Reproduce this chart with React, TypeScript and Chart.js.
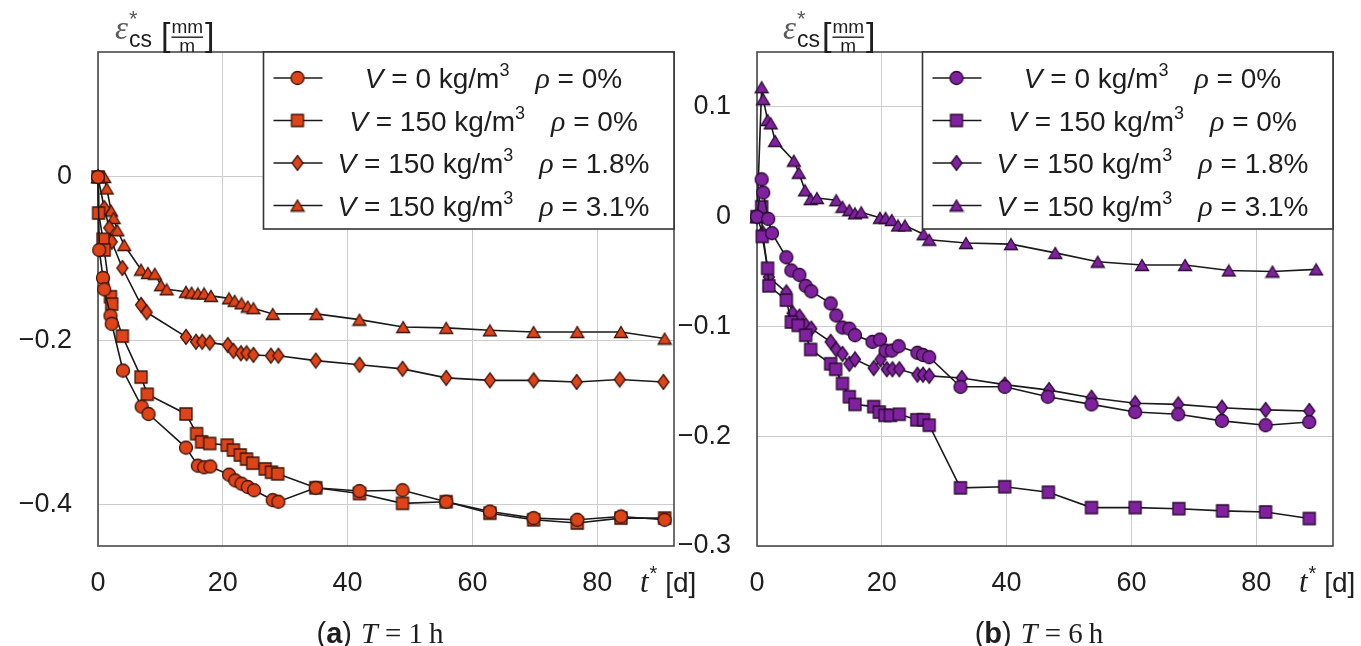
import React, { useEffect, useRef } from "react";
import { Chart, registerables } from "chart.js";
Chart.register(...registerables);

// ---------------- data ----------------
const X_TICKS = [0, 20, 40, 60, 80];
const X_TICK_LABELS = ["0", "20", "40", "60", "80"];
const A_Y_TICKS = [-0.4, -0.2, 0];
const A_Y_TICK_LABELS = ["\u22120.4", "\u22120.2", "0"];
const B_Y_TICKS = [-0.3, -0.2, -0.1, 0, 0.1];
const B_Y_TICK_LABELS = ["\u22120.3", "\u22120.2", "\u22120.1", "0", "0.1"];
const LEGEND_V = ["0", "150", "150", "150"];
const LEGEND_RHO = ["0%", "0%", "1.8%", "3.1%"];
const MARKERS = ["circle", "square", "diamond", "triangle"];

// (a) T = 1 h
const A_CIRCLE_T = [0, 0.2, 0.8, 1, 2, 2.2, 4, 7, 8.1, 14.1, 16, 17, 18, 21, 22, 23, 24, 25, 28, 28.9, 34.9, 41.9, 48.8, 55.8, 62.8, 69.8, 76.8, 83.8, 90.8];
const A_CIRCLE_V = [0, -0.089, -0.123, -0.137, -0.169, -0.179, -0.236, -0.28, -0.289, -0.33, -0.352, -0.354, -0.353, -0.363, -0.37, -0.374, -0.378, -0.382, -0.394, -0.396, -0.379, -0.383, -0.382, -0.396, -0.408, -0.416, -0.418, -0.414, -0.418];
const A_SQUARE_T = [0, 0.1, 0.8, 1, 2, 2.2, 3.9, 6.9, 7.9, 14.1, 15.8, 16.6, 17.9, 20.7, 21.7, 22.8, 23.8, 24.8, 26.8, 27.8, 28.8, 34.9, 41.9, 48.8, 55.8, 62.8, 69.8, 76.8, 83.8, 90.8];
const A_SQUARE_V = [0, -0.044, -0.076, -0.089, -0.146, -0.155, -0.194, -0.244, -0.265, -0.289, -0.313, -0.323, -0.325, -0.327, -0.333, -0.339, -0.344, -0.349, -0.356, -0.36, -0.362, -0.379, -0.386, -0.398, -0.396, -0.41, -0.418, -0.422, -0.416, -0.416];
const A_DIAMOND_T = [0, 1, 1.8, 2.2, 3.9, 6.9, 7.8, 14.1, 15.7, 16.7, 17.9, 20.8, 21.7, 22.9, 23.8, 24.9, 27.7, 28.9, 34.9, 41.9, 48.8, 55.8, 62.8, 69.8, 76.7, 83.6, 90.6];
const A_DIAMOND_V = [0, -0.038, -0.062, -0.079, -0.111, -0.156, -0.165, -0.195, -0.201, -0.201, -0.202, -0.205, -0.212, -0.215, -0.215, -0.217, -0.218, -0.218, -0.224, -0.229, -0.234, -0.245, -0.248, -0.248, -0.25, -0.247, -0.25];
const A_TRIANGLE_T = [0, 1, 1.4, 2.1, 2.5, 3.1, 4.2, 6.9, 8, 9.1, 10.1, 11, 14.1, 15, 16, 17, 18.1, 21, 21.9, 23, 24, 24.9, 28, 35, 41.9, 48.9, 55.8, 62.8, 69.8, 76.8, 83.8, 90.8];
const A_TRIANGLE_V = [0, 0, -0.014, -0.041, -0.05, -0.065, -0.083, -0.113, -0.117, -0.118, -0.132, -0.137, -0.14, -0.141, -0.142, -0.142, -0.145, -0.148, -0.151, -0.154, -0.158, -0.16, -0.167, -0.167, -0.174, -0.183, -0.184, -0.187, -0.189, -0.189, -0.189, -0.197];

// (b) T = 6 h
const B_CIRCLE_T = [0, 0.75, 1, 1.8, 2.4, 4.7, 5.5, 6.8, 7.8, 8.7, 11.8, 12.7, 13.7, 14.8, 15.7, 18.5, 19.7, 20.6, 21.6, 22.7, 25.7, 26.6, 27.6, 32.6, 39.7, 46.6, 53.6, 60.6, 67.5, 74.5, 81.5, 88.5];
const B_CIRCLE_V = [0, 0.034, 0.022, -0.002, -0.015, -0.037, -0.049, -0.053, -0.063, -0.068, -0.079, -0.09, -0.101, -0.102, -0.108, -0.114, -0.112, -0.122, -0.122, -0.118, -0.124, -0.126, -0.128, -0.155, -0.155, -0.164, -0.171, -0.178, -0.18, -0.186, -0.19, -0.187];
const B_SQUARE_T = [0, 0.75, 0.85, 1.7, 1.9, 4.7, 5.5, 6.6, 7.8, 8.6, 11.8, 12.6, 13.7, 14.8, 15.7, 18.7, 19.6, 20.5, 21.4, 22.8, 25.6, 26.7, 27.6, 32.6, 39.7, 46.7, 53.6, 60.6, 67.6, 74.6, 81.5, 88.5];
const B_SQUARE_V = [0, 0.009, -0.018, -0.047, -0.063, -0.076, -0.096, -0.099, -0.108, -0.121, -0.134, -0.139, -0.152, -0.164, -0.171, -0.173, -0.178, -0.181, -0.181, -0.18, -0.185, -0.185, -0.19, -0.247, -0.246, -0.251, -0.265, -0.265, -0.266, -0.268, -0.269, -0.275];
const B_DIAMOND_T = [0, 0.9, 1.9, 4.7, 5.7, 6.8, 7.8, 8.7, 11.8, 12.7, 13.7, 14.8, 15.7, 18.7, 19.8, 20.8, 21.7, 22.8, 25.7, 26.6, 27.6, 32.8, 39.7, 46.8, 53.6, 60.6, 67.5, 74.5, 81.5, 88.5];
const B_DIAMOND_V = [0, -0.015, -0.055, -0.069, -0.088, -0.091, -0.099, -0.102, -0.114, -0.121, -0.125, -0.134, -0.13, -0.138, -0.13, -0.139, -0.139, -0.139, -0.144, -0.144, -0.145, -0.147, -0.153, -0.158, -0.165, -0.17, -0.171, -0.174, -0.176, -0.177];
const B_TRIANGLE_T = [0, 0.75, 1, 1.7, 2.2, 2.9, 5.9, 6.7, 7.7, 8.6, 9.6, 12.7, 13.7, 14.8, 15.7, 16.7, 19.7, 20.6, 21.6, 22.6, 23.7, 26.7, 27.6, 33.5, 40.7, 47.8, 54.6, 61.7, 68.6, 75.6, 82.6, 89.6];
const B_TRIANGLE_V = [0, 0.118, 0.107, 0.088, 0.085, 0.069, 0.051, 0.04, 0.024, 0.016, 0.017, 0.015, 0.009, 0.006, 0.003, 0.004, -0.001, -0.001, -0.003, -0.008, -0.008, -0.016, -0.021, -0.024, -0.025, -0.033, -0.041, -0.044, -0.044, -0.049, -0.05, -0.048];

// ---------------- styling ----------------
const SANS = '"Liberation Sans", Arial, Helvetica, sans-serif';
const SERIF = '"Liberation Serif", "DejaVu Serif", serif';
const TEXT = "#1e1e1e";
const GRID = "#cdcdcd";
const AXIS = "#4a4a4a";
const LINE = "#1a1a1a";
const X_MAX = 92.3;

type Seg = { text: string; font: string; dy?: number; dx?: number; color?: string };

function segsWidth(ctx: CanvasRenderingContext2D, segs: Seg[]) {
  let w = 0;
  for (const s of segs) {
    ctx.font = s.font;
    w += ctx.measureText(s.text).width + (s.dx || 0);
  }
  return w;
}
function drawSegs(ctx: CanvasRenderingContext2D, segs: Seg[], x: number, y: number) {
  ctx.textAlign = "left";
  ctx.textBaseline = "alphabetic";
  let cx = x;
  for (const s of segs) {
    ctx.font = s.font;
    ctx.fillStyle = s.color || TEXT;
    cx += s.dx || 0;
    ctx.fillText(s.text, cx, y + (s.dy || 0));
    cx += ctx.measureText(s.text).width;
  }
  return cx;
}

function makeMarker(kind: string, fill: string, edge: string) {
  const c = document.createElement("canvas");
  let w = 16, h = 16;
  if (kind === "diamond") { w = 14; h = 18; }
  if (kind === "triangle") { w = 16; h = 14; }
  c.width = w; c.height = h;
  const g = c.getContext("2d")!;
  g.fillStyle = fill; g.strokeStyle = edge; g.lineWidth = 1.3;
  g.beginPath();
  if (kind === "circle") g.arc(8, 8, 6.5, 0, Math.PI * 2);
  else if (kind === "square") g.rect(2, 2, 12, 12);
  else if (kind === "diamond") { g.moveTo(7, 1.5); g.lineTo(12.5, 9); g.lineTo(7, 16.5); g.lineTo(1.5, 9); g.closePath(); }
  else { g.moveTo(8, 1.5); g.lineTo(14.5, 12.5); g.lineTo(1.5, 12.5); g.closePath(); }
  g.fill(); g.stroke();
  return c;
}

type Panel = {
  series: { t: number[]; v: number[] }[];
  yMin: number; yMax: number; yTicks: number[]; yLabels: string[];
  fill: string; edge: string; yAxisWidth: number; padRight: number;
  letter: string; hours: string; titleDx: number;
};

const panelA: Panel = {
  series: [
    { t: A_CIRCLE_T, v: A_CIRCLE_V },
    { t: A_SQUARE_T, v: A_SQUARE_V },
    { t: A_DIAMOND_T, v: A_DIAMOND_V },
    { t: A_TRIANGLE_T, v: A_TRIANGLE_V },
  ],
  yMin: -0.45, yMax: 0.1524, yTicks: A_Y_TICKS, yLabels: A_Y_TICK_LABELS,
  fill: "#df4419", edge: "#3b1408", yAxisWidth: 98, padRight: 46,
  letter: "a", hours: "1", titleDx: 17,
};
const panelB: Panel = {
  series: [
    { t: B_CIRCLE_T, v: B_CIRCLE_V },
    { t: B_SQUARE_T, v: B_SQUARE_V },
    { t: B_DIAMOND_T, v: B_DIAMOND_V },
    { t: B_TRIANGLE_T, v: B_TRIANGLE_V },
  ],
  yMin: -0.3, yMax: 0.15, yTicks: B_Y_TICKS, yLabels: B_Y_TICK_LABELS,
  fill: "#80229f", edge: "#2a0b33", yAxisWidth: 79, padRight: 28,
  letter: "b", hours: "6", titleDx: 26,
};

function decorPlugin(p: Panel, markers: HTMLCanvasElement[]) {
  return {
    id: "decor",
    beforeDatasetsDraw(chart: any) {
      const { ctx, chartArea: ca } = chart;
      ctx.save();
      ctx.strokeStyle = AXIS;
      ctx.lineWidth = 1.6;
      ctx.strokeRect(ca.left, ca.top, ca.right - ca.left, ca.bottom - ca.top);
      ctx.restore();
    },
    afterDatasetsDraw(chart: any) {
      const { ctx, chartArea: ca } = chart;
      ctx.save();
      const lx = ca.left + 165.5;
      const ly = ca.top;
      const lw = ca.right - lx;
      const lh = 177;
      ctx.fillStyle = "#fff";
      ctx.fillRect(lx, ly, lw, lh);
      ctx.strokeStyle = "#333";
      ctx.lineWidth = 1.6;
      ctx.strokeRect(lx, ly, lw, lh);
      const f = `28px ${SANS}`;
      for (let i = 0; i < 4; i++) {
        const ry = ly + 26 + i * 42.5;
        ctx.strokeStyle = LINE;
        ctx.lineWidth = 1.6;
        ctx.beginPath();
        ctx.moveTo(lx + 10, ry);
        ctx.lineTo(lx + 59, ry);
        ctx.stroke();
        const m = markers[i];
        ctx.drawImage(m, lx + 34 - m.width / 2, ry - m.height / 2);
        const segs: Seg[] = [
          { text: "V", font: `italic 28px ${SANS}` },
          { text: " = ", font: f },
          { text: LEGEND_V[i], font: f },
          { text: " kg/m", font: f },
          { text: "3", font: `18px ${SANS}`, dy: -12 },
          { text: "\u03C1", font: `italic 30px ${SERIF}`, dx: 26 },
          { text: " = ", font: f },
          { text: LEGEND_RHO[i], font: f },
        ];
        const w = segsWidth(ctx, segs);
        drawSegs(ctx, segs, lx + 230 - w / 2, ry + 10);
      }
      ctx.restore();
    },
    afterDraw(chart: any) {
      const { ctx, chartArea: ca } = chart;
      ctx.save();
      // y-axis title
      let x = ca.left + p.titleDx;
      const by = 41;
      ctx.textAlign = "left";
      ctx.textBaseline = "alphabetic";
      ctx.font = `italic 33px ${SERIF}`;
      ctx.fillStyle = "#5a5a5a";
      ctx.fillText("\u03B5", x, by - 2);
      x += ctx.measureText("\u03B5").width + 1;
      ctx.font = `22px ${SANS}`;
      ctx.fillStyle = "#5a5a5a";
      ctx.fillText("*", x, by - 15);
      ctx.font = `23px ${SANS}`;
      ctx.fillStyle = TEXT;
      ctx.fillText("cs", x, by + 6);
      x += ctx.measureText("cs").width + (p.letter === "a" ? 9 : 2);
      ctx.font = `34px ${SANS}`;
      ctx.fillText("[", x, by + 5);
      x += ctx.measureText("[").width + 1;
      ctx.font = `19px ${SANS}`;
      const mmw = ctx.measureText("mm").width;
      ctx.fillText("mm", x, by - 8);
      ctx.fillRect(x, by - 4.5, mmw, 1.4);
      const mw = ctx.measureText("m").width;
      ctx.fillText("m", x + (mmw - mw) / 2, by + 11);
      x += mmw + 2;
      ctx.font = `34px ${SANS}`;
      ctx.fillText("]", x, by + 5);
      // x-axis label t* [d]
      drawSegs(ctx, [
        { text: "t", font: `italic 31px ${SERIF}` },
        { text: "*", font: `20px ${SANS}`, dy: -12, dx: 1 },
        { text: " [d]", font: `28px ${SANS}` },
      ], ca.right - 34, 592);
      // caption
      const cap: Seg[] = [
        { text: "(", font: `29px ${SANS}` },
        { text: p.letter, font: `bold 29px ${SANS}` },
        { text: ")", font: `29px ${SANS}` },
        { text: "T", font: `italic 30px ${SERIF}`, dx: 9 },
        { text: " = ", font: `29px ${SERIF}` },
        { text: p.hours, font: `29px ${SERIF}` },
        { text: "h", font: `29px ${SERIF}`, dx: 6 },
      ];
      const cw = segsWidth(ctx, cap);
      drawSegs(ctx, cap, (ca.left + ca.right) / 2 - cw / 2 - 6, 643);
      ctx.restore();
    },
  };
}

function buildConfig(p: Panel): any {
  const markers = MARKERS.map((k) => makeMarker(k, p.fill, p.edge));
  return {
    type: "line",
    data: {
      datasets: p.series.map((s, i) => ({
        label: `V=${LEGEND_V[i]} rho=${LEGEND_RHO[i]}`,
        data: s.t.map((t, j) => ({ x: t, y: s.v[j] })),
        borderColor: LINE,
        borderWidth: 1.6,
        pointStyle: markers[i],
        pointRadius: 7,
        pointHoverRadius: 7,
        fill: false,
        tension: 0,
        clip: false,
      })),
    },
    options: {
      responsive: false,
      maintainAspectRatio: false,
      animation: false,
      events: [],
      layout: { padding: { left: 0, top: 52, right: p.padRight, bottom: 0 } },
      plugins: { legend: { display: false }, tooltip: { enabled: false }, title: { display: false } },
      scales: {
        x: {
          type: "linear",
          min: 0,
          max: X_MAX,
          afterBuildTicks: (s: any) => { s.ticks = X_TICKS.map((v) => ({ value: v })); },
          afterFit: (s: any) => { s.height = 100; },
          grid: { color: GRID, lineWidth: 1, drawTicks: false },
          border: { display: false },
          ticks: {
            autoSkip: false, maxRotation: 0, padding: 21, color: TEXT,
            font: { family: SANS, size: 27 },
            callback: (_v: any, i: number) => X_TICK_LABELS[i],
          },
        },
        y: {
          type: "linear",
          min: p.yMin,
          max: p.yMax,
          afterBuildTicks: (s: any) => { s.ticks = p.yTicks.map((v) => ({ value: v })); },
          afterFit: (s: any) => { s.width = p.yAxisWidth; },
          grid: { color: GRID, lineWidth: 1, drawTicks: false },
          border: { display: false },
          ticks: {
            autoSkip: false, padding: 26, color: TEXT,
            font: { family: SANS, size: 27 },
            callback: (_v: any, i: number) => p.yLabels[i],
          },
        },
      },
    },
    plugins: [decorPlugin(p, markers)],
  };
}

export default function App() {
  const refA = useRef<HTMLCanvasElement>(null);
  const refB = useRef<HTMLCanvasElement>(null);
  useEffect(() => {
    const a = new Chart(refA.current!, buildConfig(panelA));
    const b = new Chart(refB.current!, buildConfig(panelB));
    return () => { a.destroy(); b.destroy(); };
  }, []);
  return (
    <div style={{ position: "absolute", left: 0, top: 0, width: 1361, height: 646, background: "#fff", overflow: "hidden" }}>
      <canvas ref={refA} width={720} height={646} style={{ position: "absolute", left: 0, top: 0, width: 720, height: 646 }} />
      <canvas ref={refB} width={683} height={646} style={{ position: "absolute", left: 678, top: 0, width: 683, height: 646 }} />
    </div>
  );
}
